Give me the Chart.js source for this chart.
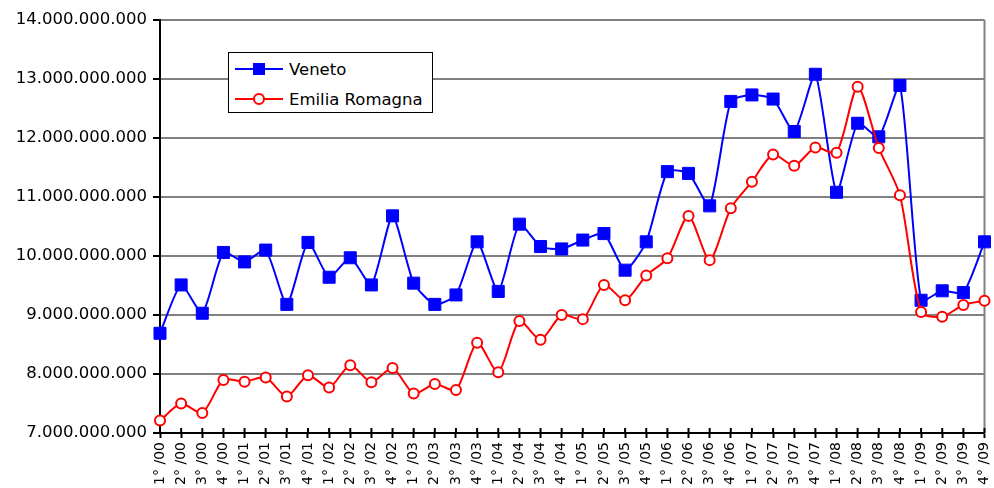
<!DOCTYPE html>
<html>
<head>
<meta charset="utf-8">
<script src="https://cdn.jsdelivr.net/npm/chart.js@4.4.1/dist/chart.umd.min.js"></script>
<style>
  body { margin: 0; background: #fff; }
  .wrap { position: relative; width: 994px; height: 488px; }
  #legend {
    position: absolute; left: 228px; top: 52px; width: 205px; height: 61px;
    box-sizing: border-box; border: 1px solid #000; background: #fff;
    font-family: 'DejaVu Sans', sans-serif; font-size: 16.5px; color: #000;
    padding-top: 1px;
  }
  #legend .row { display: flex; align-items: center; height: 30px; }
  #legend .sample { position: relative; width: 48px; height: 16px; margin: 0 6px 0 6px; }
  #legend .sample .ln { position: absolute; left: 0; right: 0; top: 7px; height: 2px; }
  #legend .sample .mk { position: absolute; box-sizing: border-box; }
</style>
</head>
<body>
<div class="wrap">
  <canvas id="chart" width="994" height="488"></canvas>
  <div id="legend"></div>
</div>
<script>
// === Data ===
const quarters = [
  '1° /00','2° /00','3° /00','4° /00','1° /01','2° /01','3° /01','4° /01',
  '1° /02','2° /02','3° /02','4° /02','1° /03','2° /03','3° /03','4° /03',
  '1° /04','2° /04','3° /04','4° /04','1° /05','2° /05','3° /05','4° /05',
  '1° /06','2° /06','3° /06','4° /06','1° /07','2° /07','3° /07','4° /07',
  '1° /08','2° /08','3° /08','4° /08','1° /09','2° /09','3° /09','4° /09'
];
const veneto = [
  8.69e9, 9.51e9, 9.03e9, 10.06e9, 9.90e9, 10.10e9, 9.18e9, 10.23e9,
  9.64e9, 9.97e9, 9.51e9, 10.68e9, 9.54e9, 9.18e9, 9.34e9, 10.24e9,
  9.40e9, 10.54e9, 10.16e9, 10.12e9, 10.27e9, 10.38e9, 9.76e9, 10.24e9,
  11.43e9, 11.40e9, 10.85e9, 12.62e9, 12.73e9, 12.66e9, 12.11e9, 13.08e9,
  11.08e9, 12.25e9, 12.02e9, 12.89e9, 9.25e9, 9.41e9, 9.38e9, 10.24e9
];
const emilia = [
  7.21e9, 7.50e9, 7.34e9, 7.90e9, 7.87e9, 7.94e9, 7.62e9, 7.98e9,
  7.77e9, 8.15e9, 7.86e9, 8.10e9, 7.67e9, 7.83e9, 7.73e9, 8.53e9,
  8.03e9, 8.90e9, 8.58e9, 9.00e9, 8.93e9, 9.51e9, 9.25e9, 9.67e9,
  9.96e9, 10.68e9, 9.93e9, 10.81e9, 11.26e9, 11.72e9, 11.53e9, 11.84e9,
  11.75e9, 12.87e9, 11.83e9, 11.03e9, 9.05e9, 8.97e9, 9.17e9, 9.24e9
];
const yMin = 7e9, yMax = 14e9, yStep = 1e9;

Chart.defaults.font.family = "'DejaVu Sans', sans-serif";
Chart.defaults.color = '#000';

// dots as thousands separator, e.g. 14.000.000.000
const fmt = v => String(Math.round(v)).replace(/\B(?=(\d{3})+(?!\d))/g, '.');

// right frame line + tick marks crossing above the x axis
const frameExtras = {
  id: 'frameExtras',
  beforeDatasetsDraw(chart) {
    const { ctx, chartArea: a, scales: { x } } = chart;
    ctx.save();
    ctx.strokeStyle = '#808080';
    ctx.lineWidth = 2;
    ctx.beginPath();
    ctx.moveTo(a.right, a.top);
    ctx.lineTo(a.right, a.bottom);
    ctx.stroke();
    ctx.strokeStyle = '#000';
    ctx.beginPath();
    x.ticks.forEach((t, i) => {
      const px = x.getPixelForTick(i);
      ctx.moveTo(px, a.bottom - 5);
      ctx.lineTo(px, a.bottom);
    });
    ctx.stroke();
    ctx.restore();
  }
};

const datasets = [
  {
    label: 'Veneto', data: veneto, order: 1,
    borderColor: '#0000ff', backgroundColor: '#0000ff', borderWidth: 2,
    pointStyle: 'rect', pointRadius: 8.5, pointBorderWidth: 1,
    pointBorderColor: '#0000ff', pointBackgroundColor: '#0000ff',
    tension: 0.2
  },
  {
    label: 'Emilia Romagna', data: emilia, order: 0,
    borderColor: '#ff0000', backgroundColor: '#ffffff', borderWidth: 2,
    pointStyle: 'circle', pointRadius: 5, pointBorderWidth: 2,
    pointBorderColor: '#ff0000', pointBackgroundColor: '#ffffff',
    tension: 0.25
  }
];

const chart = new Chart(document.getElementById('chart'), {
  type: 'line',
  data: { labels: quarters, datasets },
  options: {
    responsive: false,
    animation: false,
    layout: { padding: { top: 20, right: 8, left: 0, bottom: 0 } },
    plugins: { legend: { display: false }, title: { display: false }, tooltip: { enabled: false } },
    scales: {
      x: {
        offset: false,
        afterFit: s => { s.height = 55; s.paddingLeft = 0; s.paddingRight = 0; },
        border: { color: '#000', width: 2 },
        grid: { drawOnChartArea: false, drawTicks: true, tickLength: 5, tickColor: '#000', tickWidth: 2 },
        ticks: { autoSkip: false, maxRotation: 90, minRotation: 90, padding: 4, font: { size: 14 } }
      },
      y: {
        min: yMin, max: yMax,
        afterFit: s => { s.width = 160; },
        border: { color: '#000', width: 2 },
        grid: { color: '#808080', lineWidth: 2, tickLength: 7, tickColor: '#000', tickWidth: 2 },
        ticks: { stepSize: yStep, padding: 6, font: { size: 16.5 }, callback: v => fmt(v) }
      }
    }
  },
  plugins: [frameExtras]
});

// === HTML legend ===
const legend = document.getElementById('legend');
datasets.forEach(ds => {
  const row = document.createElement('div');
  row.className = 'row';
  const sample = document.createElement('span');
  sample.className = 'sample';
  const ln = document.createElement('span');
  ln.className = 'ln';
  ln.style.background = ds.borderColor;
  const mk = document.createElement('span');
  mk.className = 'mk';
  if (ds.pointStyle === 'rect') {
    mk.style.cssText = 'left:18px;top:2px;width:12px;height:12px;background:' + ds.pointBackgroundColor;
  } else {
    mk.style.cssText = 'left:18px;top:2px;width:12px;height:12px;border-radius:50%;border:2px solid ' +
      ds.pointBorderColor + ';background:' + ds.pointBackgroundColor;
  }
  sample.appendChild(ln);
  sample.appendChild(mk);
  const txt = document.createElement('span');
  txt.textContent = ds.label;
  row.appendChild(sample);
  row.appendChild(txt);
  legend.appendChild(row);
});
</script>
</body>
</html>
